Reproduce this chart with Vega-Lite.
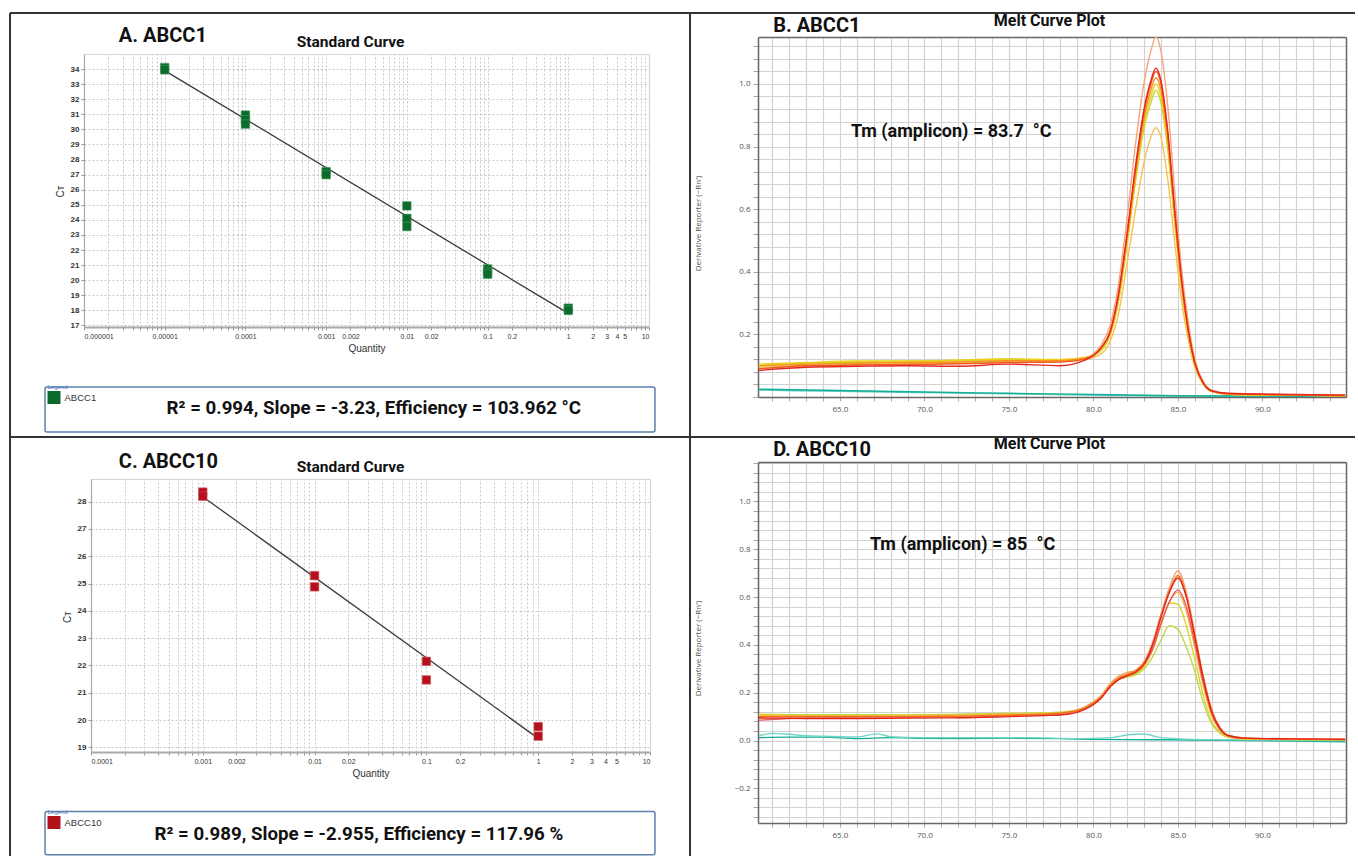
{
"$schema": "https://vega.github.io/schema/vega-lite/v6.json",
"background": "white",
"padding": {"left": 9, "top": 12, "right": 0, "bottom": 0},
"columns": 2,
"spacing": 0,
"bounds": "flush",
"align": "each",
"resolve": {"scale": {"color": "independent"}, "legend": {"color": "independent"}},
"config": {
  "view": {"stroke": null},
  "axis": {"labelFont": "Liberation Sans", "titleFont": "Liberation Sans", "labelOverlap": false},
  "text": {"font": "Roboto"}
},
"datasets": {
  "stdA": [
    {"q":0.00001,"ct":34.1,"g":"ABCC1"},{"q":0.00001,"ct":33.95,"g":"ABCC1"},
    {"q":0.0001,"ct":30.95,"g":"ABCC1"},{"q":0.0001,"ct":30.65,"g":"ABCC1"},{"q":0.0001,"ct":30.35,"g":"ABCC1"},
    {"q":0.001,"ct":27.2,"g":"ABCC1"},{"q":0.001,"ct":27.0,"g":"ABCC1"},
    {"q":0.01,"ct":24.93,"g":"ABCC1"},{"q":0.01,"ct":24.1,"g":"ABCC1"},{"q":0.01,"ct":23.56,"g":"ABCC1"},
    {"q":0.1,"ct":20.75,"g":"ABCC1"},{"q":0.1,"ct":20.55,"g":"ABCC1"},{"q":0.1,"ct":20.4,"g":"ABCC1"},
    {"q":1,"ct":18.15,"g":"ABCC1"},{"q":1,"ct":18.0,"g":"ABCC1"}
  ],
  "fitA": [{"q":0.00001,"ct":33.9},{"q":1,"ct":17.8}],
  "stdC": [
    {"q":0.001,"ct":28.35,"g":"ABCC10"},{"q":0.001,"ct":28.2,"g":"ABCC10"},
    {"q":0.01,"ct":25.29,"g":"ABCC10"},{"q":0.01,"ct":24.88,"g":"ABCC10"},
    {"q":0.1,"ct":22.15,"g":"ABCC10"},{"q":0.1,"ct":21.47,"g":"ABCC10"},
    {"q":1,"ct":19.76,"g":"ABCC10"},{"q":1,"ct":19.41,"g":"ABCC10"}
  ],
  "fitC": [{"q":0.001,"ct":28.18},{"q":1,"ct":19.33}],
  "meltB": [
    {"c":"n2","t":60.2,"v":0.022},{"c":"n2","t":65,"v":0.018},{"c":"n2","t":70,"v":0.014},{"c":"n2","t":75,"v":0.01},{"c":"n2","t":80,"v":0.006},{"c":"n2","t":85,"v":0.003},{"c":"n2","t":90,"v":0.002},{"c":"n2","t":94.9,"v":0.002},
    {"c":"n1","t":60.2,"v":0.025},{"c":"n1","t":65,"v":0.021},{"c":"n1","t":70,"v":0.016},{"c":"n1","t":75,"v":0.012},{"c":"n1","t":80,"v":0.008},{"c":"n1","t":85,"v":0.004},{"c":"n1","t":90,"v":0.003},{"c":"n1","t":94.9,"v":0.002},
    {"c":"b1","t":60.2,"v":0.1},{"c":"b1","t":63,"v":0.105},{"c":"b1","t":66,"v":0.11},{"c":"b1","t":69,"v":0.11},{"c":"b1","t":72,"v":0.112},{"c":"b1","t":75,"v":0.115},{"c":"b1","t":78,"v":0.118},{"c":"b1","t":79.5,"v":0.125},{"c":"b1","t":80.5,"v":0.17},{"c":"b1","t":81,"v":0.23},{"c":"b1","t":81.5,"v":0.365},{"c":"b1","t":82,"v":0.575},{"c":"b1","t":82.5,"v":0.81},{"c":"b1","t":83,"v":1.005},{"c":"b1","t":83.4,"v":1.105},{"c":"b1","t":83.7,"v":1.15},{"c":"b1","t":84,"v":1.105},{"c":"b1","t":84.4,"v":0.93},{"c":"b1","t":84.8,"v":0.665},{"c":"b1","t":85.2,"v":0.42},{"c":"b1","t":85.6,"v":0.245},{"c":"b1","t":86,"v":0.12},{"c":"b1","t":86.5,"v":0.05},{"c":"b1","t":87,"v":0.02},{"c":"b1","t":88,"v":0.01},{"c":"b1","t":91,"v":0.007},{"c":"b1","t":94.9,"v":0.005},
    {"c":"b7","t":60.2,"v":0.095},{"c":"b7","t":63,"v":0.1},{"c":"b7","t":66,"v":0.104},{"c":"b7","t":69,"v":0.106},{"c":"b7","t":72,"v":0.108},{"c":"b7","t":75,"v":0.112},{"c":"b7","t":78,"v":0.114},{"c":"b7","t":79.5,"v":0.12},{"c":"b7","t":80.5,"v":0.14},{"c":"b7","t":81,"v":0.18},{"c":"b7","t":81.5,"v":0.27},{"c":"b7","t":82,"v":0.43},{"c":"b7","t":82.5,"v":0.6},{"c":"b7","t":83,"v":0.75},{"c":"b7","t":83.4,"v":0.83},{"c":"b7","t":83.7,"v":0.86},{"c":"b7","t":84,"v":0.83},{"c":"b7","t":84.4,"v":0.695},{"c":"b7","t":84.8,"v":0.5},{"c":"b7","t":85.2,"v":0.315},{"c":"b7","t":85.6,"v":0.185},{"c":"b7","t":86,"v":0.095},{"c":"b7","t":86.5,"v":0.04},{"c":"b7","t":87,"v":0.017},{"c":"b7","t":88,"v":0.009},{"c":"b7","t":91,"v":0.006},{"c":"b7","t":94.9,"v":0.004},
    {"c":"b6","t":60.2,"v":0.1},{"c":"b6","t":63,"v":0.108},{"c":"b6","t":66,"v":0.112},{"c":"b6","t":69,"v":0.114},{"c":"b6","t":72,"v":0.116},{"c":"b6","t":75,"v":0.12},{"c":"b6","t":78,"v":0.118},{"c":"b6","t":79.5,"v":0.125},{"c":"b6","t":80.5,"v":0.15},{"c":"b6","t":81,"v":0.2},{"c":"b6","t":81.5,"v":0.31},{"c":"b6","t":82,"v":0.49},{"c":"b6","t":82.5,"v":0.69},{"c":"b6","t":83,"v":0.86},{"c":"b6","t":83.4,"v":0.94},{"c":"b6","t":83.7,"v":0.98},{"c":"b6","t":84,"v":0.94},{"c":"b6","t":84.4,"v":0.79},{"c":"b6","t":84.8,"v":0.565},{"c":"b6","t":85.2,"v":0.36},{"c":"b6","t":85.6,"v":0.205},{"c":"b6","t":86,"v":0.105},{"c":"b6","t":86.5,"v":0.045},{"c":"b6","t":87,"v":0.018},{"c":"b6","t":88,"v":0.009},{"c":"b6","t":91,"v":0.006},{"c":"b6","t":94.9,"v":0.004},
    {"c":"b5","t":60.2,"v":0.105},{"c":"b5","t":63,"v":0.11},{"c":"b5","t":66,"v":0.115},{"c":"b5","t":69,"v":0.115},{"c":"b5","t":72,"v":0.118},{"c":"b5","t":75,"v":0.122},{"c":"b5","t":78,"v":0.12},{"c":"b5","t":79.5,"v":0.126},{"c":"b5","t":80.5,"v":0.155},{"c":"b5","t":81,"v":0.2},{"c":"b5","t":81.5,"v":0.315},{"c":"b5","t":82,"v":0.5},{"c":"b5","t":82.5,"v":0.7},{"c":"b5","t":83,"v":0.875},{"c":"b5","t":83.4,"v":0.96},{"c":"b5","t":83.7,"v":1.0},{"c":"b5","t":84,"v":0.96},{"c":"b5","t":84.4,"v":0.81},{"c":"b5","t":84.8,"v":0.575},{"c":"b5","t":85.2,"v":0.365},{"c":"b5","t":85.6,"v":0.21},{"c":"b5","t":86,"v":0.105},{"c":"b5","t":86.5,"v":0.045},{"c":"b5","t":87,"v":0.018},{"c":"b5","t":88,"v":0.009},{"c":"b5","t":91,"v":0.006},{"c":"b5","t":94.9,"v":0.004},
    {"c":"b4","t":60.2,"v":0.1},{"c":"b4","t":63,"v":0.105},{"c":"b4","t":66,"v":0.108},{"c":"b4","t":69,"v":0.11},{"c":"b4","t":72,"v":0.112},{"c":"b4","t":75,"v":0.116},{"c":"b4","t":78,"v":0.116},{"c":"b4","t":79.5,"v":0.124},{"c":"b4","t":80.5,"v":0.16},{"c":"b4","t":81,"v":0.205},{"c":"b4","t":81.5,"v":0.325},{"c":"b4","t":82,"v":0.51},{"c":"b4","t":82.5,"v":0.715},{"c":"b4","t":83,"v":0.89},{"c":"b4","t":83.4,"v":0.98},{"c":"b4","t":83.7,"v":1.02},{"c":"b4","t":84,"v":0.98},{"c":"b4","t":84.4,"v":0.825},{"c":"b4","t":84.8,"v":0.59},{"c":"b4","t":85.2,"v":0.37},{"c":"b4","t":85.6,"v":0.215},{"c":"b4","t":86,"v":0.11},{"c":"b4","t":86.5,"v":0.045},{"c":"b4","t":87,"v":0.018},{"c":"b4","t":88,"v":0.01},{"c":"b4","t":91,"v":0.007},{"c":"b4","t":94.9,"v":0.005},
    {"c":"b3","t":60.2,"v":0.09},{"c":"b3","t":63,"v":0.1},{"c":"b3","t":66,"v":0.102},{"c":"b3","t":69,"v":0.104},{"c":"b3","t":72,"v":0.106},{"c":"b3","t":75,"v":0.11},{"c":"b3","t":78,"v":0.112},{"c":"b3","t":79.5,"v":0.122},{"c":"b3","t":80.5,"v":0.16},{"c":"b3","t":81,"v":0.21},{"c":"b3","t":81.5,"v":0.33},{"c":"b3","t":82,"v":0.52},{"c":"b3","t":82.5,"v":0.73},{"c":"b3","t":83,"v":0.91},{"c":"b3","t":83.4,"v":1.0},{"c":"b3","t":83.7,"v":1.04},{"c":"b3","t":84,"v":1.0},{"c":"b3","t":84.4,"v":0.84},{"c":"b3","t":84.8,"v":0.6},{"c":"b3","t":85.2,"v":0.38},{"c":"b3","t":85.6,"v":0.22},{"c":"b3","t":86,"v":0.11},{"c":"b3","t":86.5,"v":0.045},{"c":"b3","t":87,"v":0.02},{"c":"b3","t":88,"v":0.01},{"c":"b3","t":91,"v":0.007},{"c":"b3","t":94.9,"v":0.005},
    {"c":"b2","t":60.2,"v":0.085},{"c":"b2","t":63,"v":0.095},{"c":"b2","t":66,"v":0.098},{"c":"b2","t":69,"v":0.1},{"c":"b2","t":72,"v":0.098},{"c":"b2","t":75,"v":0.105},{"c":"b2","t":78,"v":0.1},{"c":"b2","t":79.5,"v":0.118},{"c":"b2","t":80.5,"v":0.16},{"c":"b2","t":81,"v":0.21},{"c":"b2","t":81.5,"v":0.335},{"c":"b2","t":82,"v":0.525},{"c":"b2","t":82.5,"v":0.74},{"c":"b2","t":83,"v":0.92},{"c":"b2","t":83.4,"v":1.01},{"c":"b2","t":83.7,"v":1.05},{"c":"b2","t":84,"v":1.01},{"c":"b2","t":84.4,"v":0.85},{"c":"b2","t":84.8,"v":0.605},{"c":"b2","t":85.2,"v":0.385},{"c":"b2","t":85.6,"v":0.22},{"c":"b2","t":86,"v":0.11},{"c":"b2","t":86.5,"v":0.045},{"c":"b2","t":87,"v":0.02},{"c":"b2","t":88,"v":0.012},{"c":"b2","t":91,"v":0.009},{"c":"b2","t":94.9,"v":0.006}
  ],
  "meltD": [
    {"c":"n2","t":60.2,"v":0.012},{"c":"n2","t":62,"v":0.014},{"c":"n2","t":64,"v":0.014},{"c":"n2","t":66,"v":0.008},{"c":"n2","t":68,"v":0.012},{"c":"n2","t":70,"v":0.009},{"c":"n2","t":72,"v":0.008},{"c":"n2","t":75,"v":0.01},{"c":"n2","t":78,"v":0.008},{"c":"n2","t":80,"v":0.005},{"c":"n2","t":84,"v":0.003},{"c":"n2","t":88,"v":0.001},{"c":"n2","t":92,"v":-0.002},{"c":"n2","t":94.9,"v":-0.005},
    {"c":"n1","t":60.2,"v":0.02},{"c":"n1","t":61,"v":0.03},{"c":"n1","t":62,"v":0.026},{"c":"n1","t":63,"v":0.02},{"c":"n1","t":64,"v":0.018},{"c":"n1","t":66,"v":0.015},{"c":"n1","t":67.2,"v":0.028},{"c":"n1","t":68,"v":0.016},{"c":"n1","t":70,"v":0.012},{"c":"n1","t":73,"v":0.012},{"c":"n1","t":76,"v":0.012},{"c":"n1","t":79,"v":0.008},{"c":"n1","t":81,"v":0.012},{"c":"n1","t":82.2,"v":0.025},{"c":"n1","t":83,"v":0.027},{"c":"n1","t":84,"v":0.012},{"c":"n1","t":86,"v":0.005},{"c":"n1","t":90,"v":0.002},{"c":"n1","t":94.9,"v":0.0},
    {"c":"d7","t":60.2,"v":0.11},{"c":"d7","t":63,"v":0.108},{"c":"d7","t":66,"v":0.108},{"c":"d7","t":69,"v":0.108},{"c":"d7","t":72,"v":0.11},{"c":"d7","t":75,"v":0.114},{"c":"d7","t":77,"v":0.116},{"c":"d7","t":78.5,"v":0.122},{"c":"d7","t":79.5,"v":0.14},{"c":"d7","t":80.5,"v":0.19},{"c":"d7","t":81,"v":0.23},{"c":"d7","t":81.5,"v":0.255},{"c":"d7","t":82,"v":0.265},{"c":"d7","t":82.5,"v":0.275},{"c":"d7","t":83,"v":0.3},{"c":"d7","t":83.5,"v":0.35},{"c":"d7","t":84,"v":0.42},{"c":"d7","t":84.5,"v":0.48},{"c":"d7","t":85,"v":0.465},{"c":"d7","t":85.5,"v":0.39},{"c":"d7","t":86,"v":0.29},{"c":"d7","t":86.5,"v":0.16},{"c":"d7","t":87,"v":0.07},{"c":"d7","t":87.5,"v":0.03},{"c":"d7","t":88,"v":0.013},{"c":"d7","t":89,"v":0.006},{"c":"d7","t":92,"v":0.004},{"c":"d7","t":94.9,"v":0.003},
    {"c":"d6","t":60.2,"v":0.108},{"c":"d6","t":63,"v":0.106},{"c":"d6","t":66,"v":0.106},{"c":"d6","t":69,"v":0.106},{"c":"d6","t":72,"v":0.108},{"c":"d6","t":75,"v":0.112},{"c":"d6","t":77,"v":0.114},{"c":"d6","t":78.5,"v":0.12},{"c":"d6","t":79.5,"v":0.14},{"c":"d6","t":80.5,"v":0.19},{"c":"d6","t":81,"v":0.235},{"c":"d6","t":81.5,"v":0.26},{"c":"d6","t":82,"v":0.27},{"c":"d6","t":82.5,"v":0.28},{"c":"d6","t":83,"v":0.31},{"c":"d6","t":83.5,"v":0.38},{"c":"d6","t":84,"v":0.48},{"c":"d6","t":84.5,"v":0.575},{"c":"d6","t":85,"v":0.57},{"c":"d6","t":85.5,"v":0.48},{"c":"d6","t":86,"v":0.34},{"c":"d6","t":86.5,"v":0.19},{"c":"d6","t":87,"v":0.08},{"c":"d6","t":87.5,"v":0.035},{"c":"d6","t":88,"v":0.015},{"c":"d6","t":89,"v":0.006},{"c":"d6","t":92,"v":0.004},{"c":"d6","t":94.9,"v":0.003},
    {"c":"d5","t":60.2,"v":0.105},{"c":"d5","t":63,"v":0.104},{"c":"d5","t":66,"v":0.104},{"c":"d5","t":69,"v":0.104},{"c":"d5","t":72,"v":0.106},{"c":"d5","t":75,"v":0.11},{"c":"d5","t":77,"v":0.112},{"c":"d5","t":78.5,"v":0.12},{"c":"d5","t":79.5,"v":0.14},{"c":"d5","t":80.5,"v":0.19},{"c":"d5","t":81,"v":0.24},{"c":"d5","t":81.5,"v":0.27},{"c":"d5","t":82,"v":0.285},{"c":"d5","t":82.5,"v":0.29},{"c":"d5","t":83,"v":0.315},{"c":"d5","t":83.5,"v":0.385},{"c":"d5","t":84,"v":0.49},{"c":"d5","t":84.5,"v":0.58},{"c":"d5","t":85,"v":0.62},{"c":"d5","t":85.5,"v":0.54},{"c":"d5","t":86,"v":0.39},{"c":"d5","t":86.5,"v":0.23},{"c":"d5","t":87,"v":0.105},{"c":"d5","t":87.5,"v":0.045},{"c":"d5","t":88,"v":0.018},{"c":"d5","t":89,"v":0.008},{"c":"d5","t":92,"v":0.005},{"c":"d5","t":94.9,"v":0.004},
    {"c":"d4","t":60.2,"v":0.085},{"c":"d4","t":63,"v":0.095},{"c":"d4","t":66,"v":0.098},{"c":"d4","t":69,"v":0.1},{"c":"d4","t":72,"v":0.1},{"c":"d4","t":75,"v":0.104},{"c":"d4","t":77,"v":0.108},{"c":"d4","t":78.5,"v":0.115},{"c":"d4","t":79.5,"v":0.135},{"c":"d4","t":80.5,"v":0.185},{"c":"d4","t":81,"v":0.23},{"c":"d4","t":81.5,"v":0.26},{"c":"d4","t":82,"v":0.275},{"c":"d4","t":82.5,"v":0.29},{"c":"d4","t":83,"v":0.32},{"c":"d4","t":83.5,"v":0.38},{"c":"d4","t":84,"v":0.49},{"c":"d4","t":84.5,"v":0.58},{"c":"d4","t":85,"v":0.63},{"c":"d4","t":85.5,"v":0.56},{"c":"d4","t":86,"v":0.41},{"c":"d4","t":86.5,"v":0.245},{"c":"d4","t":87,"v":0.115},{"c":"d4","t":87.5,"v":0.045},{"c":"d4","t":88,"v":0.02},{"c":"d4","t":89,"v":0.01},{"c":"d4","t":92,"v":0.006},{"c":"d4","t":94.9,"v":0.004},
    {"c":"d1","t":60.2,"v":0.09},{"c":"d1","t":63,"v":0.098},{"c":"d1","t":66,"v":0.1},{"c":"d1","t":69,"v":0.1},{"c":"d1","t":72,"v":0.1},{"c":"d1","t":75,"v":0.104},{"c":"d1","t":77,"v":0.108},{"c":"d1","t":78.5,"v":0.115},{"c":"d1","t":79.5,"v":0.14},{"c":"d1","t":80.5,"v":0.19},{"c":"d1","t":81,"v":0.235},{"c":"d1","t":81.5,"v":0.265},{"c":"d1","t":82,"v":0.28},{"c":"d1","t":82.5,"v":0.295},{"c":"d1","t":83,"v":0.33},{"c":"d1","t":83.5,"v":0.41},{"c":"d1","t":84,"v":0.53},{"c":"d1","t":84.5,"v":0.64},{"c":"d1","t":85,"v":0.71},{"c":"d1","t":85.5,"v":0.62},{"c":"d1","t":86,"v":0.45},{"c":"d1","t":86.5,"v":0.27},{"c":"d1","t":87,"v":0.13},{"c":"d1","t":87.5,"v":0.055},{"c":"d1","t":88,"v":0.022},{"c":"d1","t":89,"v":0.01},{"c":"d1","t":92,"v":0.006},{"c":"d1","t":94.9,"v":0.004},
    {"c":"d2","t":60.2,"v":0.1},{"c":"d2","t":63,"v":0.1},{"c":"d2","t":66,"v":0.1},{"c":"d2","t":69,"v":0.1},{"c":"d2","t":72,"v":0.102},{"c":"d2","t":75,"v":0.106},{"c":"d2","t":77,"v":0.11},{"c":"d2","t":78.5,"v":0.118},{"c":"d2","t":79.5,"v":0.135},{"c":"d2","t":80.5,"v":0.185},{"c":"d2","t":81,"v":0.23},{"c":"d2","t":81.5,"v":0.26},{"c":"d2","t":82,"v":0.275},{"c":"d2","t":82.5,"v":0.29},{"c":"d2","t":83,"v":0.325},{"c":"d2","t":83.5,"v":0.4},{"c":"d2","t":84,"v":0.52},{"c":"d2","t":84.5,"v":0.625},{"c":"d2","t":85,"v":0.69},{"c":"d2","t":85.5,"v":0.605},{"c":"d2","t":86,"v":0.44},{"c":"d2","t":86.5,"v":0.265},{"c":"d2","t":87,"v":0.125},{"c":"d2","t":87.5,"v":0.05},{"c":"d2","t":88,"v":0.02},{"c":"d2","t":89,"v":0.01},{"c":"d2","t":92,"v":0.006},{"c":"d2","t":94.9,"v":0.005},
    {"c":"d3","t":60.2,"v":0.095},{"c":"d3","t":63,"v":0.092},{"c":"d3","t":66,"v":0.092},{"c":"d3","t":69,"v":0.094},{"c":"d3","t":72,"v":0.095},{"c":"d3","t":75,"v":0.1},{"c":"d3","t":77,"v":0.104},{"c":"d3","t":78.5,"v":0.11},{"c":"d3","t":79.5,"v":0.13},{"c":"d3","t":80.5,"v":0.18},{"c":"d3","t":81,"v":0.225},{"c":"d3","t":81.5,"v":0.255},{"c":"d3","t":82,"v":0.27},{"c":"d3","t":82.5,"v":0.285},{"c":"d3","t":83,"v":0.32},{"c":"d3","t":83.5,"v":0.4},{"c":"d3","t":84,"v":0.515},{"c":"d3","t":84.5,"v":0.62},{"c":"d3","t":85,"v":0.68},{"c":"d3","t":85.5,"v":0.6},{"c":"d3","t":86,"v":0.435},{"c":"d3","t":86.5,"v":0.26},{"c":"d3","t":87,"v":0.12},{"c":"d3","t":87.5,"v":0.05},{"c":"d3","t":88,"v":0.02},{"c":"d3","t":89,"v":0.01},{"c":"d3","t":92,"v":0.007},{"c":"d3","t":94.9,"v":0.005}
  ]
},
"concat": [
  {
    "width": 680, "height": 424,
    "resolve": {"scale": {"x": "independent", "y": "independent"}},
    "layer": [
      {
        "resolve": {"axis": {"x": "independent", "y": "independent"}},
        "layer": [
          {
            "data": {"name": "fitA"},
            "mark": {"type": "line", "color": "#3a3a3a", "strokeWidth": 1.3},
            "encoding": {
              "x": {"field": "q", "type": "quantitative",
                "scale": {"type": "log", "domain": [0.000001, 10], "range": [74, 639], "nice": false},
                "axis": {"orient": "top", "offset": -41, "values": [0.000001,0.000002,0.000003,0.000004,0.000005,0.000006,0.000007,0.000008,0.000009,0.00001,0.00002,0.00003,0.00004,0.00005,0.00006,0.00007,0.00008,0.00009,0.0001,0.0002,0.0003,0.0004,0.0005,0.0006,0.0007,0.0008,0.0009,0.001,0.002,0.003,0.004,0.005,0.006,0.007,0.008,0.009,0.01,0.02,0.03,0.04,0.05,0.06,0.07,0.08,0.09,0.1,0.2,0.3,0.4,0.5,0.6,0.7,0.8,0.9,1,2,3,4,5,6,7,8,9,10],
                  "labels": false, "ticks": false, "domainColor": "#d6d6d6", "domainWidth": 1.2,
                  "grid": true, "gridColor": "#c8c8c8", "gridDash": [2, 2], "gridWidth": 1,
                  "title": "Standard Curve", "titleX": 340, "titleY": -8, "titleAlign": "center", "titleBaseline": "alphabetic",
                  "titleFont": "Roboto", "titleFontSize": 15.5, "titleFontWeight": "bold", "titleColor": "#111"}},
              "y": {"field": "ct", "type": "quantitative",
                "scale": {"domain": [16.9, 35], "range": [314, 41], "nice": false, "zero": false},
                "axis": {"orient": "right", "offset": -41, "labels": false, "ticks": false, "grid": false, "domainColor": "#d6d6d6", "domainWidth": 1.2, "title": null}}
            }
          },
          {
            "data": {"name": "stdA"},
            "mark": {"type": "square", "size": 72, "opacity": 1, "stroke": "#4c9a62", "strokeWidth": 0.6},
            "encoding": {
              "x": {"field": "q", "type": "quantitative",
                "axis": {"orient": "bottom", "offset": -110, "values": [0.000001,0.000002,0.000003,0.000004,0.000005,0.000006,0.000007,0.000008,0.000009,0.00001,0.00002,0.00003,0.00004,0.00005,0.00006,0.00007,0.00008,0.00009,0.0001,0.0002,0.0003,0.0004,0.0005,0.0006,0.0007,0.0008,0.0009,0.001,0.002,0.003,0.004,0.005,0.006,0.007,0.008,0.009,0.01,0.02,0.03,0.04,0.05,0.06,0.07,0.08,0.09,0.1,0.2,0.3,0.4,0.5,0.6,0.7,0.8,0.9,1,2,3,4,5,6,7,8,9,10],
                  "labelExpr": "indexof([0.000001,0.00001,0.0001,0.001,0.002,0.01,0.02,0.1,0.2,1,2,3,4,5,10], datum.value) >= 0 ? format(datum.value, '~f') : ''",
                  "labelFontSize": 7, "labelColor": "#333", "labelPadding": 2, "tickSize": 3, "tickColor": "#999",
                  "domainColor": "#a8a8a8", "domainWidth": 2, "grid": false,
                  "title": "Quantity", "titleFontSize": 10, "titleFontWeight": "normal", "titleColor": "#333", "titlePadding": 4}},
              "y": {"field": "ct", "type": "quantitative",
                "axis": {"orient": "left", "offset": -74, "values": [17,18,19,20,21,22,23,24,25,26,27,28,29,30,31,32,33,34], "format": "d",
                  "labelFontSize": 8, "labelFontWeight": "bold", "labelColor": "#333", "labelPadding": 2, "tickSize": 3, "tickColor": "#999",
                  "domainColor": "#a8a8a8", "domainWidth": 1.2, "grid": true, "gridColor": "#c8c8c8", "gridDash": [2, 2], "gridWidth": 1,
                  "title": "Cᴛ", "titleX": -24, "titleY": 178, "titleAngle": -90, "titleAlign": "center", "titleBaseline": "middle",
                  "titleFontSize": 10, "titleFontWeight": "normal", "titleColor": "#333"}},
              "color": {"field": "g", "type": "nominal", "scale": {"domain": ["ABCC1"], "range": ["#0b6b2c"]},
                "legend": {"orient": "none", "legendX": 37.5, "legendY": 371, "padding": 0,
                  "title": "Legend", "titleFont": "Liberation Sans", "titleFontSize": 6, "titleFontWeight": "normal", "titleColor": "#4a78b5", "titlePadding": 1,
                  "symbolType": "square", "symbolSize": 169, "symbolStrokeWidth": 0, "symbolOpacity": 1,
                  "labelFont": "Liberation Sans", "labelFontSize": 9.5, "labelColor": "#333", "labelOffset": 4}}
            }
          }
        ]
      },
      {
        "data": {"values": [{"panel": "A. ABCC1", "stats": "R² = 0.994, Slope = -3.23, Efficiency =  103.962 °C"}]},
        "layer": [
          {"mark": {"type": "rule", "color": "#333", "strokeWidth": 2},
           "encoding": {"x": {"datum": 0, "type": "quantitative", "scale": {"domain": [0, 1]}, "axis": null}, "x2": {"datum": 1},
                        "y": {"datum": 0, "type": "quantitative", "scale": {"domain": [0, 1], "reverse": true}, "axis": null}}},
          {"mark": {"type": "rule", "color": "#333", "strokeWidth": 2},
           "encoding": {"x": {"datum": 0, "type": "quantitative"}, "y": {"datum": 0, "type": "quantitative"}, "y2": {"datum": 1}}},
          {"mark": {"type": "rect", "fill": "transparent", "stroke": "#5b80ad", "strokeWidth": 1.5, "cornerRadius": 2},
           "encoding": {"x": {"datum": 0.0515, "type": "quantitative"}, "x2": {"datum": 0.9485}, "y": {"datum": 0.882, "type": "quantitative"}, "y2": {"datum": 0.988}}},
          {"mark": {"type": "text", "align": "left", "baseline": "alphabetic", "fontSize": 20, "fontWeight": "bold", "color": "#111"},
           "encoding": {"x": {"datum": 0.16, "type": "quantitative"}, "y": {"datum": 0.0684, "type": "quantitative"}, "text": {"field": "panel"}}},
          {"mark": {"type": "text", "align": "center", "baseline": "alphabetic", "fontSize": 18.7, "fontWeight": "bold", "color": "#111"},
           "encoding": {"x": {"datum": 0.535, "type": "quantitative"}, "y": {"datum": 0.945, "type": "quantitative"}, "text": {"field": "stats"}}}
        ]
      }
    ]
  },
  {
    "width": 665, "height": 424,
    "resolve": {"scale": {"x": "independent", "y": "independent"}},
    "layer": [
      {
        "resolve": {"axis": {"x": "independent", "y": "independent"}},
        "layer": [
          {
            "data": {"name": "meltB"},
            "mark": {"type": "line", "interpolate": "monotone", "strokeWidth": 1.4},
            "encoding": {
              "x": {"field": "t", "type": "quantitative",
                "scale": {"domain": [60.15, 94.95], "range": [68, 656], "nice": false, "zero": false},
                "axis": {"orient": "bottom", "offset": -40, "values": [61,62,63,64,65,66,67,68,69,70,71,72,73,74,75,76,77,78,79,80,81,82,83,84,85,86,87,88,89,90,91,92,93,94],
                  "labelExpr": "datum.value % 5 === 0 ? format(datum.value, '.1f') : ''",
                  "labelFont": "Open Sans", "labelFontSize": 8, "labelColor": "#555", "labelPadding": 4, "tickSize": 4, "tickColor": "#aaa",
                  "domainColor": "#666", "domainWidth": 1.5, "grid": false, "title": null}},
              "y": {"field": "v", "type": "quantitative",
                "scale": {"domain": [0, 1.15], "range": [384, 24], "nice": false, "zero": false},
                "axis": {"orient": "left", "offset": -68, "values": [0,0.04,0.08,0.12,0.16,0.2,0.24,0.28,0.32,0.36,0.4,0.44,0.48,0.52,0.56,0.6,0.64,0.68,0.72,0.76,0.8,0.84,0.88,0.92,0.96,1,1.04,1.08,1.12],
                  "labelExpr": "indexof([0.2,0.4,0.6,0.8,1], datum.value) >= 0 ? format(datum.value, '.1f') : ''",
                  "labelFont": "Open Sans", "labelFontSize": 8, "labelColor": "#555", "labelPadding": 3, "tickSize": 5, "tickColor": "#aaa",
                  "domainColor": "#666", "domainWidth": 1.5, "grid": true, "gridColor": "#d2d2d2", "gridWidth": 1.2,
                  "title": "Derivative Reporter (−Rn′)", "titleX": -59.5, "titleY": 210, "titleAngle": -90, "titleAlign": "center", "titleBaseline": "middle",
                  "titleFont": "Open Sans", "titleFontSize": 8, "titleFontWeight": "normal", "titleColor": "#555"}},
              "color": {"field": "c", "type": "nominal",
                "scale": {"domain": ["n2","n1","b1","b7","b6","b5","b4","b3","b2"], "range": ["#62cfc0","#14ad96","#f7a478","#f8c24e","#c8d430","#ecd11c","#f7931e","#f05a22","#e42a1f"]},
                "legend": null}
            }
          },
          {
            "data": {"values": [{"tm": "Tm (amplicon) = 83.7\u00a0 °C"}]},
            "mark": {"type": "text", "align": "left", "baseline": "alphabetic", "fontSize": 18, "fontWeight": "bold", "color": "#111"},
            "encoding": {
              "x": {"datum": 65.65, "type": "quantitative",
                "axis": {"orient": "top", "offset": -24, "values": [61,62,63,64,65,66,67,68,69,70,71,72,73,74,75,76,77,78,79,80,81,82,83,84,85,86,87,88,89,90,91,92,93,94],
                  "labels": false, "ticks": false, "domainColor": "#666", "domainWidth": 1.5,
                  "grid": true, "gridColor": "#d2d2d2", "gridWidth": 1.2,
                  "title": "Melt Curve Plot", "titleX": 359, "titleY": -12, "titleAlign": "center", "titleBaseline": "alphabetic",
                  "titleFont": "Roboto", "titleFontSize": 16, "titleFontWeight": "bold", "titleColor": "#111"}},
              "y": {"datum": 0.83, "type": "quantitative",
                "axis": {"orient": "right", "offset": -9, "labels": false, "ticks": false, "grid": false, "domainColor": "#666", "domainWidth": 1.5, "title": null}},
              "text": {"field": "tm"}
            }
          }
        ]
      },
      {
        "data": {"values": [{"panel": "B. ABCC1"}]},
        "layer": [
          {"mark": {"type": "rule", "color": "#333", "strokeWidth": 2},
           "encoding": {"x": {"datum": 0, "type": "quantitative", "scale": {"domain": [0, 1]}, "axis": null}, "x2": {"datum": 1},
                        "y": {"datum": 0, "type": "quantitative", "scale": {"domain": [0, 1], "reverse": true}, "axis": null}}},
          {"mark": {"type": "rule", "color": "#333", "strokeWidth": 2},
           "encoding": {"x": {"datum": 0, "type": "quantitative"}, "y": {"datum": 0, "type": "quantitative"}, "y2": {"datum": 1}}},
          {"mark": {"type": "text", "align": "left", "baseline": "alphabetic", "fontSize": 20, "fontWeight": "bold", "color": "#111"},
           "encoding": {"x": {"datum": 0.125, "type": "quantitative"}, "y": {"datum": 0.0448, "type": "quantitative"}, "text": {"field": "panel"}}}
        ]
      }
    ]
  },
  {
    "width": 680, "height": 419,
    "resolve": {"scale": {"x": "independent", "y": "independent"}},
    "layer": [
      {
        "resolve": {"axis": {"x": "independent", "y": "independent"}},
        "layer": [
          {
            "data": {"name": "fitC"},
            "mark": {"type": "line", "color": "#3a3a3a", "strokeWidth": 1.3},
            "encoding": {
              "x": {"field": "q", "type": "quantitative",
                "scale": {"type": "log", "domain": [0.0001, 10], "range": [81, 640], "nice": false},
                "axis": {"orient": "top", "offset": -42, "values": [0.0001,0.0002,0.0003,0.0004,0.0005,0.0006,0.0007,0.0008,0.0009,0.001,0.002,0.003,0.004,0.005,0.006,0.007,0.008,0.009,0.01,0.02,0.03,0.04,0.05,0.06,0.07,0.08,0.09,0.1,0.2,0.3,0.4,0.5,0.6,0.7,0.8,0.9,1,2,3,4,5,6,7,8,9,10],
                  "labels": false, "ticks": false, "domainColor": "#d6d6d6", "domainWidth": 1.2,
                  "grid": true, "gridColor": "#c8c8c8", "gridDash": [2, 2], "gridWidth": 1,
                  "title": "Standard Curve", "titleX": 340, "titleY": -7.3, "titleAlign": "center", "titleBaseline": "alphabetic",
                  "titleFont": "Roboto", "titleFontSize": 15.5, "titleFontWeight": "bold", "titleColor": "#111"}},
              "y": {"field": "ct", "type": "quantitative",
                "scale": {"domain": [18.83, 28.83], "range": [315, 42], "nice": false, "zero": false},
                "axis": {"orient": "right", "offset": -40, "labels": false, "ticks": false, "grid": false, "domainColor": "#d6d6d6", "domainWidth": 1.2, "title": null}}
            }
          },
          {
            "data": {"name": "stdC"},
            "mark": {"type": "square", "size": 72, "opacity": 1, "stroke": "#d9585e", "strokeWidth": 0.6},
            "encoding": {
              "x": {"field": "q", "type": "quantitative",
                "axis": {"orient": "bottom", "offset": -104, "values": [0.0001,0.0002,0.0003,0.0004,0.0005,0.0006,0.0007,0.0008,0.0009,0.001,0.002,0.003,0.004,0.005,0.006,0.007,0.008,0.009,0.01,0.02,0.03,0.04,0.05,0.06,0.07,0.08,0.09,0.1,0.2,0.3,0.4,0.5,0.6,0.7,0.8,0.9,1,2,3,4,5,6,7,8,9,10],
                  "labelExpr": "indexof([0.0001,0.001,0.002,0.01,0.02,0.1,0.2,1,2,3,4,5,10], datum.value) >= 0 ? format(datum.value, '~f') : ''",
                  "labelFontSize": 7, "labelColor": "#333", "labelPadding": 2, "tickSize": 3, "tickColor": "#999",
                  "domainColor": "#a8a8a8", "domainWidth": 2, "grid": false,
                  "title": "Quantity", "titleFontSize": 10, "titleFontWeight": "normal", "titleColor": "#333", "titlePadding": 4}},
              "y": {"field": "ct", "type": "quantitative",
                "axis": {"orient": "left", "offset": -81, "values": [19,20,21,22,23,24,25,26,27,28], "format": "d",
                  "labelFontSize": 8, "labelFontWeight": "bold", "labelColor": "#333", "labelPadding": 2, "tickSize": 3, "tickColor": "#999",
                  "domainColor": "#a8a8a8", "domainWidth": 1.2, "grid": true, "gridColor": "#c8c8c8", "gridDash": [2, 2], "gridWidth": 1,
                  "title": "Cᴛ", "titleX": -24, "titleY": 179.7, "titleAngle": -90, "titleAlign": "center", "titleBaseline": "middle",
                  "titleFontSize": 10, "titleFontWeight": "normal", "titleColor": "#333"}},
              "color": {"field": "g", "type": "nominal", "scale": {"domain": ["ABCC10"], "range": ["#b3121c"]},
                "legend": {"orient": "none", "legendX": 37.5, "legendY": 372, "padding": 0,
                  "title": "Legend", "titleFont": "Liberation Sans", "titleFontSize": 6, "titleFontWeight": "normal", "titleColor": "#4a78b5", "titlePadding": 1,
                  "symbolType": "square", "symbolSize": 169, "symbolStrokeWidth": 0, "symbolOpacity": 1,
                  "labelFont": "Liberation Sans", "labelFontSize": 9.5, "labelColor": "#333", "labelOffset": 4}}
            }
          }
        ]
      },
      {
        "data": {"values": [{"panel": "C. ABCC10", "stats": "R² = 0.989, Slope = -2.955, Efficiency =  117.96 %"}]},
        "layer": [
          {"mark": {"type": "rule", "color": "#333", "strokeWidth": 2},
           "encoding": {"x": {"datum": 0, "type": "quantitative", "scale": {"domain": [0, 1]}, "axis": null}, "x2": {"datum": 1},
                        "y": {"datum": 0, "type": "quantitative", "scale": {"domain": [0, 1], "reverse": true}, "axis": null}}},
          {"mark": {"type": "rule", "color": "#333", "strokeWidth": 2},
           "encoding": {"x": {"datum": 0, "type": "quantitative"}, "y": {"datum": 0, "type": "quantitative"}, "y2": {"datum": 1}}},
          {"mark": {"type": "rect", "fill": "transparent", "stroke": "#5b80ad", "strokeWidth": 1.5, "cornerRadius": 2},
           "encoding": {"x": {"datum": 0.0515, "type": "quantitative"}, "x2": {"datum": 0.9485}, "y": {"datum": 0.894, "type": "quantitative"}, "y2": {"datum": 0.997}}},
          {"mark": {"type": "text", "align": "left", "baseline": "alphabetic", "fontSize": 20, "fontWeight": "bold", "color": "#111"},
           "encoding": {"x": {"datum": 0.16, "type": "quantitative"}, "y": {"datum": 0.074, "type": "quantitative"}, "text": {"field": "panel"}}},
          {"mark": {"type": "text", "align": "center", "baseline": "alphabetic", "fontSize": 18.7, "fontWeight": "bold", "color": "#111"},
           "encoding": {"x": {"datum": 0.513, "type": "quantitative"}, "y": {"datum": 0.962, "type": "quantitative"}, "text": {"field": "stats"}}}
        ]
      }
    ]
  },
  {
    "width": 665, "height": 419,
    "resolve": {"scale": {"x": "independent", "y": "independent"}},
    "layer": [
      {
        "resolve": {"axis": {"x": "independent", "y": "independent"}},
        "layer": [
          {
            "data": {"name": "meltD"},
            "mark": {"type": "line", "interpolate": "monotone", "strokeWidth": 1.4},
            "encoding": {
              "x": {"field": "t", "type": "quantitative",
                "scale": {"domain": [60.15, 94.95], "range": [68, 656], "nice": false, "zero": false},
                "axis": {"orient": "bottom", "offset": -33, "values": [61,62,63,64,65,66,67,68,69,70,71,72,73,74,75,76,77,78,79,80,81,82,83,84,85,86,87,88,89,90,91,92,93,94],
                  "labelExpr": "datum.value % 5 === 0 ? format(datum.value, '.1f') : ''",
                  "labelFont": "Open Sans", "labelFontSize": 8, "labelColor": "#555", "labelPadding": 4, "tickSize": 4, "tickColor": "#aaa",
                  "domainColor": "#666", "domainWidth": 1.5, "grid": false, "title": null}},
              "y": {"field": "v", "type": "quantitative",
                "scale": {"domain": [-0.345, 1.165], "range": [386, 25], "nice": false, "zero": false},
                "axis": {"orient": "left", "offset": -68, "values": [-0.32,-0.28,-0.24,-0.2,-0.16,-0.12,-0.08,-0.04,0,0.04,0.08,0.12,0.16,0.2,0.24,0.28,0.32,0.36,0.4,0.44,0.48,0.52,0.56,0.6,0.64,0.68,0.72,0.76,0.8,0.84,0.88,0.92,0.96,1,1.04,1.08,1.12,1.16],
                  "labelExpr": "indexof([-0.2,0,0.2,0.4,0.6,0.8,1], datum.value) >= 0 ? format(datum.value, '.1f') : ''",
                  "labelFont": "Open Sans", "labelFontSize": 8, "labelColor": "#555", "labelPadding": 3, "tickSize": 5, "tickColor": "#aaa",
                  "domainColor": "#666", "domainWidth": 1.5, "grid": true, "gridColor": "#d2d2d2", "gridWidth": 1.2,
                  "title": "Derivative Reporter (−Rn′)", "titleX": -59.5, "titleY": 211, "titleAngle": -90, "titleAlign": "center", "titleBaseline": "middle",
                  "titleFont": "Open Sans", "titleFontSize": 8, "titleFontWeight": "normal", "titleColor": "#555"}},
              "color": {"field": "c", "type": "nominal",
                "scale": {"domain": ["n2","n1","d7","d6","d5","d4","d1","d2","d3"], "range": ["#14ad96","#6fd6c6","#c2d64c","#d8d62a","#f6b548","#ea5468","#f6a06e","#f2711f","#e3261b"]},
                "legend": null}
            }
          },
          {
            "data": {"values": [{"tm": "Tm (amplicon) = 85\u00a0 °C"}]},
            "mark": {"type": "text", "align": "left", "baseline": "alphabetic", "fontSize": 18, "fontWeight": "bold", "color": "#111"},
            "encoding": {
              "x": {"datum": 66.78, "type": "quantitative",
                "axis": {"orient": "top", "offset": -25, "values": [61,62,63,64,65,66,67,68,69,70,71,72,73,74,75,76,77,78,79,80,81,82,83,84,85,86,87,88,89,90,91,92,93,94],
                  "labels": false, "ticks": false, "domainColor": "#666", "domainWidth": 1.5,
                  "grid": true, "gridColor": "#d2d2d2", "gridWidth": 1.2,
                  "title": "Melt Curve Plot", "titleX": 359, "titleY": -14, "titleAlign": "center", "titleBaseline": "alphabetic",
                  "titleFont": "Roboto", "titleFontSize": 16, "titleFontWeight": "bold", "titleColor": "#111"}},
              "y": {"datum": 0.798, "type": "quantitative",
                "axis": {"orient": "right", "offset": -9, "labels": false, "ticks": false, "grid": false, "domainColor": "#666", "domainWidth": 1.5, "title": null}},
              "text": {"field": "tm"}
            }
          }
        ]
      },
      {
        "data": {"values": [{"panel": "D. ABCC10"}]},
        "layer": [
          {"mark": {"type": "rule", "color": "#333", "strokeWidth": 2},
           "encoding": {"x": {"datum": 0, "type": "quantitative", "scale": {"domain": [0, 1]}, "axis": null}, "x2": {"datum": 1},
                        "y": {"datum": 0, "type": "quantitative", "scale": {"domain": [0, 1], "reverse": true}, "axis": null}}},
          {"mark": {"type": "rule", "color": "#333", "strokeWidth": 2},
           "encoding": {"x": {"datum": 0, "type": "quantitative"}, "y": {"datum": 0, "type": "quantitative"}, "y2": {"datum": 1}}},
          {"mark": {"type": "text", "align": "left", "baseline": "alphabetic", "fontSize": 20, "fontWeight": "bold", "color": "#111"},
           "encoding": {"x": {"datum": 0.125, "type": "quantitative"}, "y": {"datum": 0.0453, "type": "quantitative"}, "text": {"field": "panel"}}}
        ]
      }
    ]
  }
]
}
